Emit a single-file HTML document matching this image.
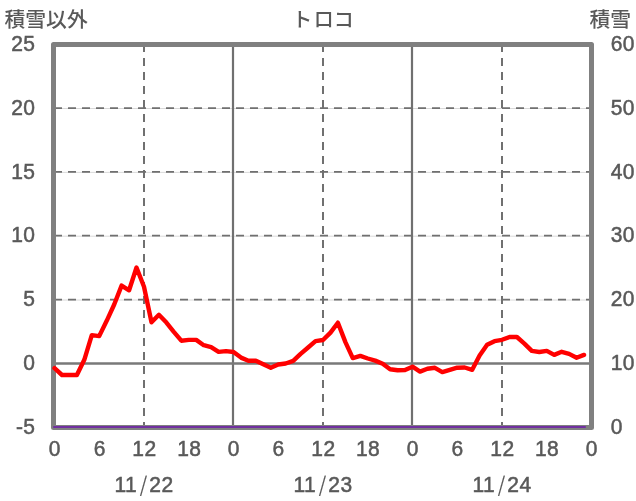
<!DOCTYPE html>
<html lang="ja">
<head>
<meta charset="utf-8">
<title>トロコ</title>
<style>
html,body{margin:0;padding:0;background:#fff;}
body{width:636px;height:501px;overflow:hidden;}
svg{display:block;}
text{font-family:"Liberation Sans","Noto Sans CJK JP",sans-serif;fill:#595959;}
.num{font-size:21px;letter-spacing:0.4px;stroke:#595959;stroke-width:0.5px;}
.jp{font-size:20.8px;font-weight:500;}
</style>
</head>
<body>
<svg width="636" height="501" viewBox="0 0 636 501">
<rect x="0" y="0" width="636" height="501" fill="#ffffff"/>

<line x1="53.5" y1="300.03" x2="591.5" y2="300.03" stroke="#d9d9d9" stroke-width="1"/>
<line x1="54.0" y1="299.53" x2="591.5" y2="299.53" stroke="#707070" stroke-width="1.8" stroke-dasharray="8 6"/>
<line x1="53.5" y1="236.20" x2="591.5" y2="236.20" stroke="#d9d9d9" stroke-width="1"/>
<line x1="54.0" y1="235.70" x2="591.5" y2="235.70" stroke="#707070" stroke-width="1.8" stroke-dasharray="8 6"/>
<line x1="53.5" y1="172.37" x2="591.5" y2="172.37" stroke="#d9d9d9" stroke-width="1"/>
<line x1="54.0" y1="171.87" x2="591.5" y2="171.87" stroke="#707070" stroke-width="1.8" stroke-dasharray="8 6"/>
<line x1="53.5" y1="108.53" x2="591.5" y2="108.53" stroke="#d9d9d9" stroke-width="1"/>
<line x1="54.0" y1="108.03" x2="591.5" y2="108.03" stroke="#707070" stroke-width="1.8" stroke-dasharray="8 6"/>
<line x1="144.00" y1="44" x2="144.00" y2="427.5" stroke="#707070" stroke-width="2" stroke-dasharray="8 6"/>
<line x1="323.00" y1="44" x2="323.00" y2="427.5" stroke="#707070" stroke-width="2" stroke-dasharray="8 6"/>
<line x1="502.00" y1="44" x2="502.00" y2="427.5" stroke="#707070" stroke-width="2" stroke-dasharray="8 6"/>
<line x1="233.00" y1="44.5" x2="233.00" y2="427.5" stroke="#707070" stroke-width="2.2"/>
<line x1="412.00" y1="44.5" x2="412.00" y2="427.5" stroke="#707070" stroke-width="2.2"/>
<line x1="53.5" y1="363.50" x2="591.5" y2="363.50" stroke="#797979" stroke-width="2.7"/>
<rect x="53.5" y="44.5" width="538.0" height="383.0" fill="none" stroke="#808080" stroke-width="5" stroke-linejoin="round"/>
<line x1="54" y1="427.05" x2="585" y2="427.05" stroke="#7030a0" stroke-width="2.1" stroke-linecap="round"/>
<polyline points="54.5,368.2 62.0,375.0 69.4,375.0 76.9,375.0 84.3,359.8 91.8,335.1 99.2,336.1 106.7,320.8 114.2,304.5 121.6,285.6 129.1,290.3 136.5,267.5 144.0,286.8 151.5,322.3 158.9,314.8 166.4,322.6 173.8,331.8 181.3,340.7 188.8,339.9 196.2,339.9 203.7,345.2 211.1,347.1 218.6,351.9 226.0,351.1 233.5,352.0 241.0,357.6 248.4,360.7 255.9,360.7 263.3,364.2 270.8,367.7 278.2,364.5 285.7,363.5 293.2,360.9 300.6,353.9 308.1,347.5 315.5,341.1 323.0,340.0 330.5,332.6 337.9,322.7 345.4,342.1 352.8,358.1 360.3,355.9 367.8,358.5 375.2,360.6 382.7,363.7 390.1,369.2 397.6,370.2 405.0,370.0 412.5,366.7 420.0,371.6 427.4,368.8 434.9,367.8 442.3,372.1 449.8,369.8 457.2,367.7 464.7,367.5 472.2,369.8 479.6,355.4 487.1,344.8 494.5,341.2 502.0,339.8 509.5,337.0 516.9,337.0 524.4,343.6 531.8,350.9 539.3,352.0 546.8,350.9 554.2,354.9 561.7,351.8 569.1,353.9 576.6,357.7 584.0,354.9" fill="none" stroke="#ff0000" stroke-width="4.4" stroke-linejoin="round" stroke-linecap="round"/>
<text class="jp" x="4.5" y="26.8">積雪以外</text>
<text class="jp" x="324.4" y="26.6" text-anchor="middle" style="font-size:20px"><tspan dx="-1.5">ト</tspan><tspan dx="1.5">ロコ</tspan></text>
<text class="jp" x="589.5" y="26.5">積雪</text>
<text class="num" transform="translate(35.4,433.9) scale(1,1.09)" text-anchor="end">-5</text>
<text class="num" transform="translate(35.4,370.1) scale(1,1.09)" text-anchor="end">0</text>
<text class="num" transform="translate(35.4,306.2) scale(1,1.09)" text-anchor="end">5</text>
<text class="num" transform="translate(35.4,242.4) scale(1,1.09)" text-anchor="end">10</text>
<text class="num" transform="translate(35.4,178.6) scale(1,1.09)" text-anchor="end">15</text>
<text class="num" transform="translate(35.4,114.7) scale(1,1.09)" text-anchor="end">20</text>
<text class="num" transform="translate(35.4,50.9) scale(1,1.09)" text-anchor="end">25</text>
<text class="num" transform="translate(610.8,433.9) scale(1,1.09)">0</text>
<text class="num" transform="translate(610.8,370.1) scale(1,1.09)">10</text>
<text class="num" transform="translate(610.8,306.2) scale(1,1.09)">20</text>
<text class="num" transform="translate(610.8,242.4) scale(1,1.09)">30</text>
<text class="num" transform="translate(610.8,178.6) scale(1,1.09)">40</text>
<text class="num" transform="translate(610.8,114.7) scale(1,1.09)">50</text>
<text class="num" transform="translate(610.8,50.9) scale(1,1.09)">60</text>
<text class="num" transform="translate(54.9,455.6) scale(1,1.09)" text-anchor="middle">0</text>
<text class="num" transform="translate(99.7,455.6) scale(1,1.09)" text-anchor="middle">6</text>
<text class="num" transform="translate(144.4,455.6) scale(1,1.09)" text-anchor="middle">12</text>
<text class="num" transform="translate(189.2,455.6) scale(1,1.09)" text-anchor="middle">18</text>
<text class="num" transform="translate(233.9,455.6) scale(1,1.09)" text-anchor="middle">0</text>
<text class="num" transform="translate(278.6,455.6) scale(1,1.09)" text-anchor="middle">6</text>
<text class="num" transform="translate(323.4,455.6) scale(1,1.09)" text-anchor="middle">12</text>
<text class="num" transform="translate(368.1,455.6) scale(1,1.09)" text-anchor="middle">18</text>
<text class="num" transform="translate(412.9,455.6) scale(1,1.09)" text-anchor="middle">0</text>
<text class="num" transform="translate(457.6,455.6) scale(1,1.09)" text-anchor="middle">6</text>
<text class="num" transform="translate(502.4,455.6) scale(1,1.09)" text-anchor="middle">12</text>
<text class="num" transform="translate(547.1,455.6) scale(1,1.09)" text-anchor="middle">18</text>
<text class="num" transform="translate(591.9,455.6) scale(1,1.09)" text-anchor="middle">0</text>
<text class="num" transform="translate(144.0,491.6) scale(1,1.09)" text-anchor="middle">11<tspan dx="2.6" style="font-family:'Noto Sans CJK JP',sans-serif;font-size:19px;stroke-width:0.1px">/</tspan><tspan dx="1.8">22</tspan></text>
<text class="num" transform="translate(323.0,491.6) scale(1,1.09)" text-anchor="middle">11<tspan dx="2.6" style="font-family:'Noto Sans CJK JP',sans-serif;font-size:19px;stroke-width:0.1px">/</tspan><tspan dx="1.8">23</tspan></text>
<text class="num" transform="translate(502.0,491.6) scale(1,1.09)" text-anchor="middle">11<tspan dx="2.6" style="font-family:'Noto Sans CJK JP',sans-serif;font-size:19px;stroke-width:0.1px">/</tspan><tspan dx="1.8">24</tspan></text>
</svg>
</body>
</html>
